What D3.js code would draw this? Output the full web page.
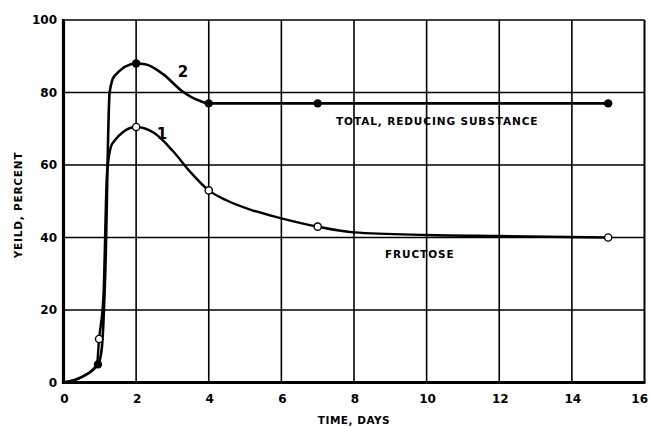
<!DOCTYPE html>
<html><head><meta charset="utf-8">
<script src="https://cdn.jsdelivr.net/npm/d3@7"></script>
<style>
html,body{margin:0;padding:0;background:#fff;}
text{font-family:"DejaVu Sans",sans-serif;font-weight:bold;fill:#000;}
</style></head>
<body><svg id="c" width="649" height="427"></svg>
<script>
// Marker points (observations)
const totalDays = [0.95, 2, 4, 7, 15];
const totalValues = [5, 88, 77, 77, 77];
const fructoseDays = [0.98, 2, 4, 7, 15];
const fructoseValues = [12, 70.5, 53, 43, 40];
// Hand-drawn smooth curves
const totalCurveDays =   [0, 0.5, 0.95, 1.05, 1.15, 1.27, 1.4, 2, 2.25, 2.75, 3.25, 3.75, 4, 7, 15];
const totalCurveValues = [0, 1.5, 5, 9, 30, 80, 84.5, 88, 87.8, 85, 80.5, 77.7, 77, 77, 77];
const fructCurveDays =   [0, 0.5, 0.92, 0.98, 1.1, 1.2, 1.35, 2, 2.5, 3, 3.5, 4, 4.5, 5.2, 6, 7, 8, 10, 12, 15];
const fructCurveValues = [0, 1.5, 5, 12, 24, 58, 66, 70.5, 68.8, 64, 58, 53, 50.2, 47.5, 45.3, 43, 41.4, 40.7, 40.4, 40];
const xTicks = [0, 2, 4, 6, 8, 10, 12, 14, 16];
const xTickLabels = ["0", "2", "4", "6", "8", "10", "12", "14", "16"];
const yTicks = [0, 20, 40, 60, 80, 100];
const yTickLabels = ["0", "20", "40", "60", "80", "100"];

const svg = d3.select("#c");
const x = d3.scaleLinear().domain([0, 16]).range([63.5, 644.5]);
const y = d3.scaleLinear().domain([0, 100]).range([382.5, 20]);

// grid
const g = svg.append("g");
g.selectAll("line.v").data(xTicks.filter(d => d > 0)).enter().append("line")
  .attr("x1", d => x(d)).attr("x2", d => x(d)).attr("y1", y(0)).attr("y2", y(100))
  .attr("stroke", "#000").attr("stroke-width", d => d === 16 ? 2 : 1.6);
g.selectAll("line.h").data(yTicks.filter(d => d > 0)).enter().append("line")
  .attr("x1", x(0)).attr("x2", x(16)).attr("y1", d => y(d)).attr("y2", d => y(d))
  .attr("stroke", "#000").attr("stroke-width", d => d === 100 ? 1.4 : 1.6);
// axes lines
svg.append("line").attr("x1", x(0)).attr("x2", x(0)).attr("y1", y(0) + 1.5).attr("y2", y(100) - 1)
  .attr("stroke", "#000").attr("stroke-width", 3.2);
svg.append("line").attr("x1", x(0) - 1.5).attr("x2", x(16) + 1).attr("y1", y(0)).attr("y2", y(0))
  .attr("stroke", "#000").attr("stroke-width", 3);

// tick labels
svg.selectAll("text.yt").data(yTicks).enter().append("text")
  .attr("x", 57).attr("y", d => y(d)).attr("dy", "0.35em")
  .attr("text-anchor", "end").attr("font-size", 12)
  .text((d, i) => yTickLabels[i]);
svg.selectAll("text.xt").data(xTicks).enter().append("text")
  .attr("x", d => d === 16 ? 648 : x(d) + 1).attr("y", 399).attr("dy", "0.35em")
  .attr("text-anchor", d => d === 16 ? "end" : "middle").attr("font-size", 12)
  .text((d, i) => xTickLabels[i]);

// axis titles
svg.append("text").attr("x", 354).attr("y", 420).attr("dy", "0.35em")
  .attr("text-anchor", "middle").attr("font-size", 10.5).attr("letter-spacing", 0.5)
  .text("TIME, DAYS");
svg.append("text").attr("transform", "translate(18,205) rotate(-90)")
  .attr("text-anchor", "middle").attr("dy", "0.35em").attr("font-size", 10.5).attr("letter-spacing", 0.8)
  .text("YEILD, PERCENT");

// curves
const line = d3.line().x(d => x(d[0])).y(d => y(d[1])).curve(d3.curveMonotoneX);
svg.append("path").attr("d", line(totalCurveDays.map((d, i) => [d, totalCurveValues[i]])))
  .attr("fill", "none").attr("stroke", "#000").attr("stroke-width", 2.6);
svg.append("path").attr("d", line(fructCurveDays.map((d, i) => [d, fructCurveValues[i]])))
  .attr("fill", "none").attr("stroke", "#000").attr("stroke-width", 2.4);

// markers
svg.selectAll("circle.t").data(totalDays).enter().append("circle")
  .attr("cx", d => x(d)).attr("cy", (d, i) => y(totalValues[i])).attr("r", 4.2)
  .attr("fill", "#000");
svg.selectAll("circle.f").data(fructoseDays).enter().append("circle")
  .attr("cx", d => x(d)).attr("cy", (d, i) => y(fructoseValues[i])).attr("r", 3.6)
  .attr("fill", "#fff").attr("stroke", "#000").attr("stroke-width", 1.4);

// annotations
svg.append("text").attr("x", 183).attr("y", 72).attr("dy", "0.35em").attr("text-anchor", "middle")
  .attr("font-size", 15).text("2");
svg.append("text").attr("x", 162).attr("y", 134).attr("dy", "0.35em").attr("text-anchor", "middle")
  .attr("font-size", 15).attr("font-weight", "normal").text("1");
svg.append("text").attr("x", 336).attr("y", 121).attr("dy", "0.35em")
  .attr("font-size", 10.5).attr("letter-spacing", 0.9).text("TOTAL, REDUCING SUBSTANCE");
svg.append("text").attr("x", 385).attr("y", 254).attr("dy", "0.35em")
  .attr("font-size", 10.5).attr("letter-spacing", 0.9).text("FRUCTOSE");
</script></body></html>
